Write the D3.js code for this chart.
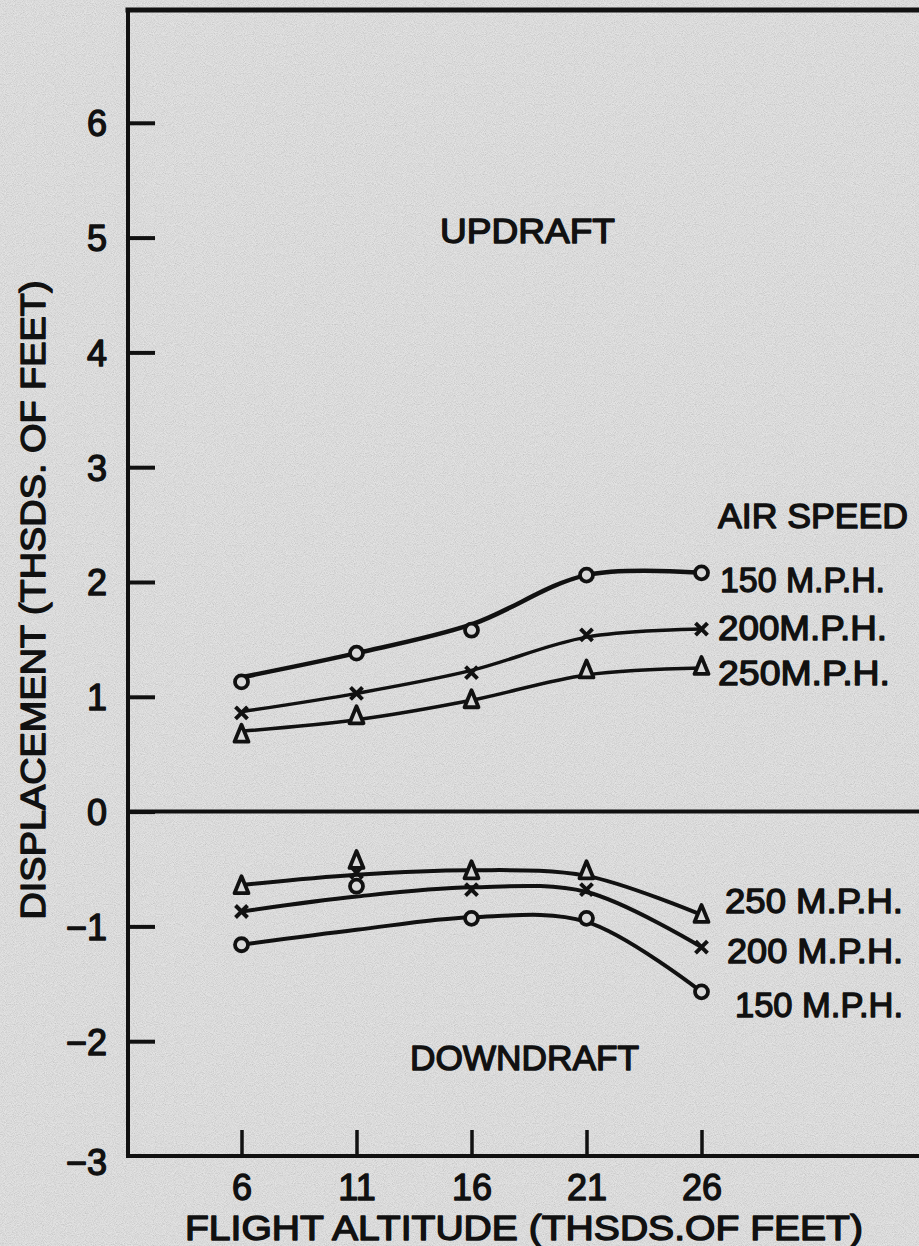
<!DOCTYPE html>
<html>
<head>
<meta charset="utf-8">
<script src="https://cdn.jsdelivr.net/npm/d3@7"></script>
<style>
  html, body { margin: 0; padding: 0; background: #d6d6d6; }
  svg { display: block; }
  text { font-family: "Liberation Sans", Arial, sans-serif; fill: #111; stroke: #111; stroke-width: 1.4px; stroke-linejoin: round; }
</style>
</head>
<body>
<div id="chart"></div>
<script>
// flight altitude, thousands of feet
const altitudes = [6, 11, 16, 21, 26];
const yTicks = [6, 5, 4, 3, 2, 1, 0, -1, -2, -3];

// updraft: plotted points
const up150 = [1.13, 1.38, 1.58, 2.06, 2.08];
const up200 = [0.86, 1.03, 1.21, 1.54, 1.59];
const up250 = [0.67, 0.83, 0.97, 1.23, 1.26];
// updraft: faired curves
const up150Curve = [1.17, 1.38, 1.63, 2.06, 2.08];
const up200Curve = [0.87, 1.03, 1.23, 1.52, 1.59];
const up250Curve = [0.70, 0.80, 0.97, 1.19, 1.25];

// downdraft: plotted points
const down250 = [-0.65, -0.43, -0.52, -0.52, -0.90];
const down200 = [-0.87, -0.53, -0.68, -0.68, -1.18];
const down150 = [-1.16, -0.65, -0.93, -0.93, -1.57];
// downdraft: faired curves
const down250Curve = [-0.64, -0.55, -0.51, -0.56, -0.90];
const down200Curve = [-0.87, -0.74, -0.66, -0.70, -1.18];
const down150Curve = [-1.16, -1.03, -0.92, -0.96, -1.57];

const W = 919, H = 1246;
const axisX = 128;
const paper = '#d9d9d9';

var svg = d3.select('#chart').append('svg')
  .attr('width', W).attr('height', H);

// paper texture
var defs = svg.append('defs');
var f = defs.append('filter').attr('id', 'grain')
  .attr('x', 0).attr('y', 0).attr('width', '100%').attr('height', '100%');
f.append('feTurbulence').attr('type', 'fractalNoise')
  .attr('baseFrequency', 1.1).attr('numOctaves', 1).attr('seed', 7);
f.append('feColorMatrix').attr('type', 'matrix')
  .attr('values', '1 0 0 0 0  1 0 0 0 0  1 0 0 0 0  0 0 0 0 1');

svg.append('rect').attr('width', W).attr('height', H).attr('fill', '#e8e8e8');
svg.append('rect').attr('width', W).attr('height', H)
  .attr('filter', 'url(#grain)').attr('opacity', 0.3);

// scales
var x = d3.scaleLinear().domain([6, 26]).range([241.5, 701.5]);
var y = d3.scaleLinear().domain([-3, 7]).range([1156, 8]);

// frame lines
var frame = svg.append('g').attr('stroke', '#111').attr('stroke-linecap', 'square');
frame.append('line').attr('x1', axisX).attr('x2', axisX)
  .attr('y1', y(7) + 2).attr('y2', y(-3)).attr('stroke-width', 4);
frame.append('line').attr('x1', axisX).attr('x2', W)
  .attr('y1', y(7) + 2).attr('y2', y(7) + 2).attr('stroke-width', 5);
frame.append('line').attr('x1', axisX).attr('x2', W)
  .attr('y1', y(0)).attr('y2', y(0)).attr('stroke-width', 4);
frame.append('line').attr('x1', axisX).attr('x2', W)
  .attr('y1', y(-3)).attr('y2', y(-3)).attr('stroke-width', 4);

// y axis (ticks point inward, labels outside)
var yAxis = svg.append('g')
  .attr('transform', 'translate(' + axisX + ',0)')
  .call(d3.axisLeft(y).tickValues(yTicks).tickSize(-27).tickPadding(21));
yAxis.select('.domain').remove();
yAxis.selectAll('.tick line').attr('stroke', '#111').attr('stroke-width', 4);
yAxis.selectAll('.tick text').attr('font-size', 36).attr('dy', '0.36em')
  .style('font-family', '"Liberation Sans", Arial, sans-serif');
yAxis.selectAll('.tick').filter(function(d) { return d === -3; }).select('line').remove();
yAxis.selectAll('.tick').filter(function(d) { return d === -3; }).select('text').attr('dy', '0.5em');

// x axis (ticks point up from the bottom line)
var xAxis = svg.append('g')
  .attr('transform', 'translate(0,' + y(-3) + ')')
  .call(d3.axisBottom(x).tickValues(altitudes).tickSize(-26).tickPadding(18));
xAxis.select('.domain').remove();
xAxis.selectAll('.tick line').attr('stroke', '#111').attr('stroke-width', 3.5);
xAxis.selectAll('.tick text').attr('font-size', 36).attr('dy', '0.71em')
  .style('font-family', '"Liberation Sans", Arial, sans-serif');

// axis titles
svg.append('text')
  .attr('x', 185).attr('y', 1240)
  .attr('font-size', 35)
  .attr('textLength', 678).attr('lengthAdjust', 'spacingAndGlyphs')
  .text('FLIGHT ALTITUDE (THSDS.OF FEET)');

svg.append('text')
  .attr('transform', 'translate(45,600) rotate(-90)')
  .attr('text-anchor', 'middle')
  .attr('font-size', 35)
  .attr('textLength', 639).attr('lengthAdjust', 'spacingAndGlyphs')
  .text('DISPLACEMENT (THSDS. OF FEET)');

// curves
var line = d3.line()
  .x(function(d) { return x(d[0]); })
  .y(function(d) { return y(d[1]); })
  .curve(d3.curveCatmullRom.alpha(0.5));

var curves = [
  { v: up150Curve, w: 4.5 },
  { v: up200Curve, w: 3.5 },
  { v: up250Curve, w: 3.5 },
  { v: down250Curve, w: 4 },
  { v: down200Curve, w: 4 },
  { v: down150Curve, w: 4 }
];

svg.append('g').selectAll('path').data(curves).join('path')
  .attr('d', function(c) { return line(altitudes.map(function(a, i) { return [a, c.v[i]]; })); })
  .attr('fill', 'none')
  .attr('stroke', '#111')
  .attr('stroke-width', function(c) { return c.w; })
  .attr('stroke-linecap', 'round');

// markers
function pts(vals) {
  return altitudes.map(function(a, i) { return { a: a, v: vals[i] }; });
}

var circles = pts(up150).concat(pts(down150));
var crosses = pts(up200).concat(pts(down200));
var triangles = pts(up250).concat(pts(down250));

var marks = svg.append('g').attr('stroke', '#111').attr('stroke-width', 3.8);

marks.selectAll('circle').data(circles).join('circle')
  .attr('cx', function(d) { return x(d.a); })
  .attr('cy', function(d) { return y(d.v); })
  .attr('r', 6.5)
  .attr('fill', paper);

marks.selectAll('path.tri').data(triangles).join('path')
  .attr('class', 'tri')
  .attr('transform', function(d) { return 'translate(' + x(d.a) + ',' + y(d.v) + ')'; })
  .attr('d', 'M0,-10L7,7L-7,7Z')
  .attr('fill', paper)
  .attr('stroke-linejoin', 'round');

marks.selectAll('path.cross').data(crosses).join('path')
  .attr('class', 'cross')
  .attr('transform', function(d) { return 'translate(' + x(d.a) + ',' + y(d.v) + ')'; })
  .attr('d', 'M-6,-6L6,6M6,-6L-6,6')
  .attr('fill', 'none')
  .attr('stroke-width', 4);

// annotations
function label(txt, lx, ly, len) {
  svg.append('text')
    .attr('x', lx).attr('y', ly)
    .attr('font-size', 35)
    .attr('textLength', len).attr('lengthAdjust', 'spacingAndGlyphs')
    .text(txt);
}

label('UPDRAFT', 440, 243, 175);
label('DOWNDRAFT', 410, 1070, 229);

label('AIR SPEED', 718, 528, 190);
label('150 M.P.H.', 720, 592, 165);
label('200M.P.H.', 718, 640, 169);
label('250M.P.H.', 718, 685, 172);

label('250 M.P.H.', 725, 913, 178);
label('200 M.P.H.', 727, 963, 176);
label('150 M.P.H.', 735, 1017, 168);
</script>
</body>
</html>
